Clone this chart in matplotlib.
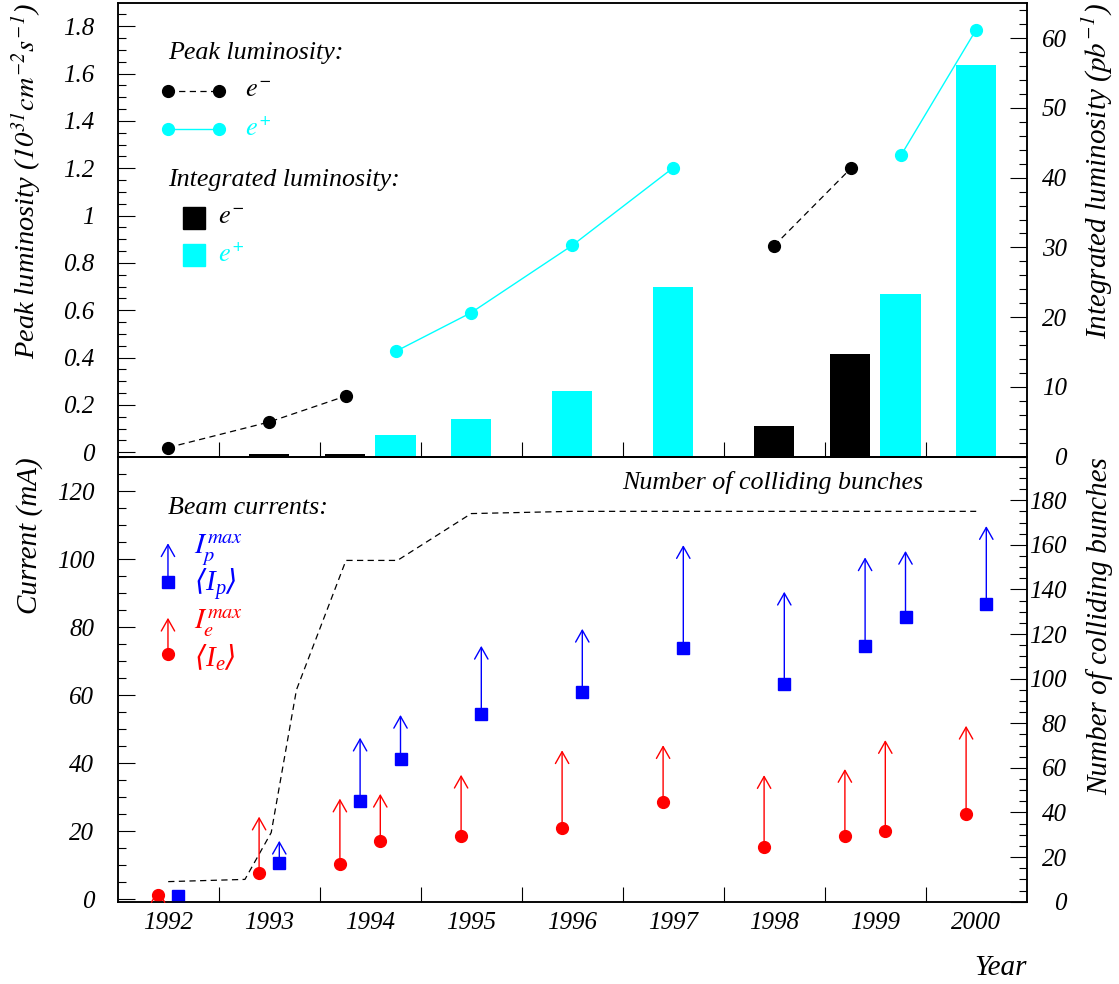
import numpy as np
import matplotlib
matplotlib.use("Agg")
import matplotlib.pyplot as plt
from matplotlib.ticker import MultipleLocator, FixedLocator, FixedFormatter, NullFormatter, FuncFormatter
from matplotlib.patches import Rectangle

plt.rcParams['font.family'] = ['Liberation Serif', 'DejaVu Serif', 'DejaVu Sans']
plt.rcParams['font.style'] = 'italic'
plt.rcParams['font.size'] = 18
plt.rcParams['mathtext.fontset'] = 'stix'
plt.rcParams['mathtext.default'] = 'it'
# used only by the <I> labels (math_fontfamily='custom'): brackets from DejaVu Sans
plt.rcParams['mathtext.rm'] = 'DejaVu Sans'
plt.rcParams['mathtext.it'] = 'Liberation Serif:italic'

years = [1992, 1993, 1994, 1995, 1996, 1997, 1998, 1999, 2000]

# peak luminosity (10^31 cm^-2 s^-1), nan splits the curve
peak_em_t = [1992.0, 1993.0, 1993.76, np.nan, 1998.0, 1998.76]
peak_em = [0.02, 0.128, 0.238, np.nan, 0.873, 1.20]
peak_ep_t = [1994.26, 1995.0, 1996.0, 1997.0, np.nan, 1999.26, 2000.0]
peak_ep = [0.428, 0.59, 0.874, 1.202, np.nan, 1.258, 1.786]

# integrated luminosity (pb^-1)
int_em_t = [1993.0, 1993.75, 1998.0, 1998.75]
int_em = [0.4, 0.4, 4.4, 14.7]
int_ep_t = [1994.25, 1995.0, 1996.0, 1997.0, 1999.25, 2000.0]
int_ep = [3.1, 5.4, 9.4, 24.4, 23.3, 56.1]

# beam currents (mA), one entry per running period
period_t = [1992.0, 1993.0, 1993.8, 1994.2, 1995.0, 1996.0, 1997.0, 1998.0, 1998.8, 1999.2, 2000.0]
ie_mean = [1.3, 7.6, 10.5, 17.0, 18.6, 21.0, 28.7, 15.5, 18.6, 20.2, 25.1]
ie_max = [3.0, 24.3, 29.6, 31.0, 36.6, 43.8, 45.3, 36.5, 38.3, 46.8, 51.0]
ip_mean = [1.0, 10.8, 28.8, 41.2, 54.5, 61.0, 74.0, 63.2, 74.5, 83.1, 86.7]
ip_max = [1.0, 17.2, 47.5, 54.2, 74.5, 79.5, 104.1, 90.4, 100.5, 102.4, 109.7]

# number of colliding bunches
bunch_t = [1992.0, 1992.76, 1993.02, 1993.27, 1993.76, 1994.27, 1995.0, 1996.0, 2000.0]
bunches = [9, 10, 31, 95, 153, 153, 174, 175, 175]

CYAN = '#00ffff'
W, H = 1119, 984
fig = plt.figure(figsize=(W / 100, H / 100), dpi=100)
ax_top = fig.add_axes([117.7 / W, 1 - 456.7 / H, 909 / W, 453.4 / H])
ax_bot = fig.add_axes([117.7 / W, 1 - 901.7 / H, 909 / W, 445 / H])
ax_top_r = ax_top.twinx()
ax_bot_r = ax_bot.twinx()
for a, ar in ((ax_top, ax_top_r), (ax_bot, ax_bot_r)):
    a.set_zorder(ar.get_zorder() + 1)
    a.patch.set_visible(False)

fmt = FuncFormatter(lambda v, p: '%g' % round(v, 3))

# x axes
for a in (ax_top, ax_bot):
    a.set_xlim(1991.5, 2000.5)
    a.xaxis.set_major_locator(FixedLocator([y + 0.5 for y in years[:-1]]))
    a.xaxis.set_major_formatter(NullFormatter())
    a.xaxis.set_minor_locator(FixedLocator(years))
    a.tick_params(axis='x', which='major', direction='in', length=11, width=0.8,
                  top=False, bottom=True)
    a.tick_params(axis='x', which='minor', length=0, pad=7.4, labelsize=18)
ax_top.xaxis.set_minor_formatter(NullFormatter())
ax_bot.xaxis.set_minor_formatter(FixedFormatter([str(y) for y in years]))


def style_y(a, lo, hi, major, minor, right=False):
    a.set_ylim(lo, hi)
    a.yaxis.set_major_locator(MultipleLocator(major))
    a.yaxis.set_minor_locator(MultipleLocator(minor))
    a.yaxis.set_major_formatter(fmt)
    pad = 28.8 if right else 16.8
    a.tick_params(axis='y', which='both', direction='in', width=0.8, pad=pad, labelsize=18,
                  left=not right, right=right, labelleft=not right, labelright=right)
    a.tick_params(axis='y', which='major', length=12)
    a.tick_params(axis='y', which='minor', length=6)
    if right:
        plt.setp(a.get_yticklabels(), ha='right')
    for s in a.spines.values():
        s.set_linewidth(1.1)


style_y(ax_top, -0.0186, 1.897, 0.2, 0.05)
style_y(ax_top_r, 0, 65, 10, 2, right=True)
style_y(ax_bot, -0.7, 130.1, 20, 5)
style_y(ax_bot_r, 0, 199.5, 20, 5, right=True)

# top panel
dash = (0, (5, 3.5))
ax_top_r.bar(int_em_t, int_em, width=0.4, color='black')
ax_top_r.bar(int_ep_t, int_ep, width=0.4, color=CYAN)
ax_top.plot(peak_em_t, peak_em, color='black', ls=dash, lw=0.9, marker='o', ms=8.5)
ax_top.plot(peak_ep_t, peak_ep, color=CYAN, lw=1.0, marker='o', ms=8.5)

# bottom panel
ax_bot_r.plot(bunch_t, bunches, color='black', ls=dash, lw=0.9)
red_t = [t - 0.1 for t in period_t]
blue_t = [t + 0.1 for t in period_t]
ARROW = '->,head_length=0.85,head_width=0.48'


def arrows(a, xs, lo, hi, c):
    for x, m, top in zip(xs, lo, hi):
        if top <= m:
            continue
        a.annotate('', xy=(x, top), xytext=(x, m),
                   arrowprops=dict(arrowstyle=ARROW, color=c, lw=1.0, shrinkA=0, shrinkB=0,
                                   mutation_scale=10))


arrows(ax_bot, red_t, ie_mean, ie_max, 'red')
arrows(ax_bot, blue_t, ip_mean, ip_max, 'blue')
ax_bot.plot(red_t, ie_mean, 'o', color='red', ms=8.5)
ax_bot.plot(blue_t, ip_mean, 's', color='blue', ms=8.5)

# legends, top
T = ax_top.transAxes
LS = 18.7
ax_top.text(0.0553, 0.890, 'Peak luminosity:', transform=T, ha='left', va='center', fontsize=LS)
ax_top.plot([0.0553, 0.1114], [0.8064, 0.8064], color='black', ls=dash, lw=0.9, marker='o',
            ms=8.5, transform=T, clip_on=False)
ax_top.text(0.140, 0.8064, '$e^{-}$', transform=T, ha='left', va='center', fontsize=19)
ax_top.plot([0.0553, 0.1114], [0.7222, 0.7222], color=CYAN, lw=1.0, marker='o',
            ms=8.5, transform=T, clip_on=False)
ax_top.text(0.140, 0.7222, '$e^{+}$', transform=T, ha='left', va='center', fontsize=19, color=CYAN)
ax_top.text(0.0553, 0.6103, 'Integrated luminosity:', transform=T, ha='left', va='center', fontsize=LS)
ax_top.add_patch(Rectangle((0.0722, 0.5029), 0.0242, 0.0485, transform=T, color='black'))
ax_top.text(0.1103, 0.5271, '$e^{-}$', transform=T, ha='left', va='center', fontsize=19)
ax_top.add_patch(Rectangle((0.0722, 0.4196), 0.0242, 0.0485, transform=T, color=CYAN))
ax_top.text(0.1103, 0.4438, '$e^{+}$', transform=T, ha='left', va='center', fontsize=19, color=CYAN)

# legends, bottom
B = ax_bot.transAxes
ax_bot.text(0.0553, 0.8847, 'Beam currents:', transform=B, ha='left', va='center', fontsize=LS)
ax_bot.annotate('', xy=(0.0553, 0.8054), xytext=(0.0553, 0.7191), xycoords=B, textcoords=B,
                arrowprops=dict(arrowstyle=ARROW, color='blue', lw=1.0, shrinkA=0, shrinkB=0,
                                mutation_scale=10))
ax_bot.plot([0.0553], [0.7191], 's', color='blue', ms=8.5, transform=B, clip_on=False)
ax_bot.text(0.0839, 0.790, r'$I_p^{max}$', transform=B, ha='left', va='center', fontsize=21, color='blue')
ax_bot.text(0.0839, 0.712, r'$\langle I_p\rangle$', transform=B, ha='left', va='center', fontsize=21,
            color='blue', math_fontfamily='custom')
ax_bot.annotate('', xy=(0.0553, 0.638), xytext=(0.0553, 0.556), xycoords=B, textcoords=B,
                arrowprops=dict(arrowstyle=ARROW, color='red', lw=1.0, shrinkA=0, shrinkB=0,
                                mutation_scale=10))
ax_bot.plot([0.0553], [0.556], 'o', color='red', ms=8.5, transform=B, clip_on=False)
ax_bot.text(0.0839, 0.626, r'$I_e^{max}$', transform=B, ha='left', va='center', fontsize=21, color='red')
ax_bot.text(0.0839, 0.547, r'$\langle I_e\rangle$', transform=B, ha='left', va='center', fontsize=21,
            color='red', math_fontfamily='custom')
ax_bot.text(0.5547, 0.943, 'Number of colliding bunches', transform=B, ha='left', va='center',
            fontsize=LS)

# axis titles
fig.text(27 / W, 1 - 3 / H, r'Peak luminosity ($10^{31}cm^{-2}s^{-1}$)', rotation=90,
         ha='center', va='top', fontsize=20.4)
fig.text(1097 / W, 1 - 3 / H, r'Integrated luminosity ($pb^{-1}$)', rotation=90,
         ha='center', va='top', fontsize=21)
fig.text(30 / W, 1 - 457 / H, 'Current (mA)', rotation=90, ha='center', va='top', fontsize=21)
fig.text(1100 / W, 1 - 457 / H, 'Number of colliding bunches', rotation=90, ha='center',
         va='top', fontsize=21)
fig.text(1026.7 / W, 1 - 968 / H, 'Year', ha='right', va='center', fontsize=21)

fig.savefig('out.png', dpi=100)
